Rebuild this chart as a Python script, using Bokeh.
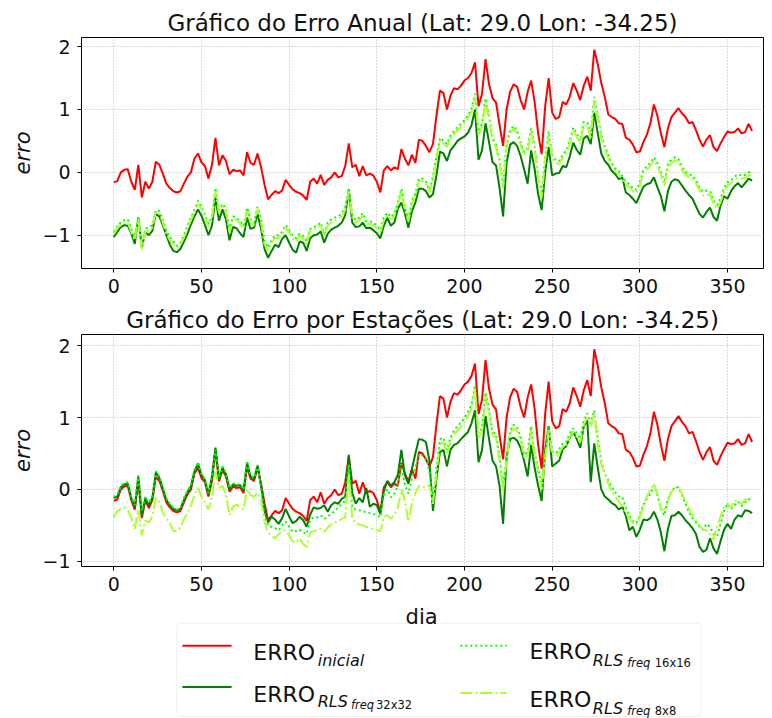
from bokeh.plotting import figure
from bokeh.layouts import column
from bokeh.models import Range1d, FixedTicker, BoxAnnotation
from bokeh.embed import file_html
from bokeh.resources import INLINE
from bokeh.core.properties import value

# ---------------- data ----------------
dia = list(range(0, 365, 2))

erro_inicial = [
    -0.16, -0.14, 0.00, 0.04, 0.05, -0.15, -0.28, 0.12, -0.40, -0.15,
    -0.26, -0.15, 0.17, 0.12, -0.02, -0.18, -0.25, -0.30, -0.32, -0.30,
    -0.18, -0.07, 0.00, 0.22, 0.30, 0.16, 0.10, -0.10, 0.12, 0.55,
    0.11, 0.27, 0.18, -0.03, 0.04, 0.02, 0.03, -0.05, 0.32, 0.15,
    0.12, 0.30, 0.08, -0.20, -0.43, -0.36, -0.30, -0.33, -0.29, -0.12,
    -0.20, -0.27, -0.31, -0.33, -0.37, -0.44, -0.15, -0.10, -0.18, -0.04,
    -0.20, -0.12, -0.08, 0.00, -0.08, -0.06, 0.10, 0.46, 0.08, 0.12,
    -0.06, 0.10, -0.05, -0.02, -0.05, -0.15, -0.32, 0.03, 0.10, 0.03,
    0.08, 0.05, 0.37, 0.22, 0.11, 0.28, 0.15, 0.52, 0.50, 0.42,
    0.32, 0.45, 0.90, 1.30, 1.26, 1.00, 1.22, 1.34, 1.32, 1.38,
    1.46, 1.50, 1.58, 1.75, 1.05, 1.25, 1.80, 1.40, 1.18, 1.11,
    0.75, 0.42, 1.00, 1.28, 1.40, 1.36, 1.15, 1.00, 1.28, 1.46,
    1.12, 0.62, 0.29, 1.05, 1.50, 0.95, 0.85, 0.88, 1.12, 1.08,
    1.20, 1.42, 1.30, 1.15, 1.38, 1.52, 1.30, 1.95, 1.72, 1.42,
    1.20, 0.92, 0.88, 0.85, 0.78, 0.77, 0.55, 0.52, 0.44, 0.32,
    0.33, 0.48, 0.60, 0.78, 1.08, 0.90, 0.62, 0.40, 0.70, 0.88,
    0.95, 1.02, 0.94, 0.88, 0.78, 0.80, 0.67, 0.52, 0.41, 0.52,
    0.59, 0.40, 0.34, 0.46, 0.56, 0.65, 0.63, 0.64, 0.70, 0.62,
    0.64, 0.77, 0.66,
]

# annual fit
anual_32 = [
    -1.03, -0.95, -0.87, -0.84, -0.85, -0.97, -1.14, -0.72, -1.20, -0.95,
    -1.00, -0.93, -0.66, -0.70, -0.84, -1.00, -1.15, -1.25, -1.27, -1.22,
    -1.10, -0.98, -0.83, -0.70, -0.59, -0.69, -0.84, -1.00, -0.85, -0.40,
    -0.77, -0.59, -0.75, -1.08, -0.87, -0.89, -0.97, -1.03, -0.72, -0.90,
    -0.88, -0.66, -0.90, -1.22, -1.36, -1.25, -1.15, -1.19, -1.06, -1.00,
    -1.12, -1.23, -1.28, -1.10, -1.12, -1.25, -1.05, -1.00, -0.99, -0.94,
    -1.12, -0.98, -0.91, -0.88, -0.85, -0.80, -0.68, -0.28, -0.80, -0.87,
    -0.86, -0.80, -0.89, -0.88, -0.92, -0.97, -1.05, -0.85, -0.72, -0.85,
    -0.80, -0.58, -0.48, -0.65, -0.88, -0.62, -0.48, -0.26, -0.26, -0.30,
    -0.40, -0.35, -0.05, 0.33, 0.30, 0.18, 0.35, 0.42, 0.50, 0.54,
    0.57, 0.63, 0.75, 1.00, 0.20, 0.35, 0.78, 0.48, 0.16, 0.11,
    -0.25, -0.70, 0.15, 0.44, 0.48, 0.42, 0.26, 0.05, -0.18, 0.35,
    0.05, -0.35, -0.60, 0.00, 0.40, -0.05, -0.02, -0.01, 0.10, 0.08,
    0.25, 0.47, 0.36, 0.28, 0.54, 0.58, 0.45, 0.95, 0.62, 0.30,
    0.18, 0.12, 0.02, -0.03, -0.11, -0.08, -0.32, -0.36, -0.42, -0.49,
    -0.36, -0.23, -0.19, -0.17, -0.08, -0.24, -0.38, -0.62, -0.30, -0.15,
    -0.11, -0.13, -0.21, -0.29, -0.36, -0.42, -0.54, -0.66, -0.72, -0.63,
    -0.56, -0.71, -0.77, -0.53, -0.38, -0.42, -0.30, -0.22, -0.17, -0.24,
    -0.17, -0.10, -0.13,
]

anual_16 = [
    -0.95, -0.85, -0.80, -0.76, -0.75, -0.90, -1.02, -0.72, -1.18, -0.90,
    -0.87, -0.84, -0.60, -0.62, -0.75, -0.94, -1.03, -1.10, -1.17, -1.12,
    -1.00, -0.86, -0.72, -0.60, -0.45, -0.55, -0.68, -0.82, -0.70, -0.25,
    -0.60, -0.50, -0.58, -0.92, -0.70, -0.72, -0.78, -0.85, -0.56, -0.75,
    -0.80, -0.55, -0.75, -1.10, -1.20, -1.08, -1.00, -1.00, -0.95, -0.84,
    -0.92, -1.00, -1.05, -0.98, -1.01, -1.10, -0.90, -0.87, -0.85, -0.80,
    -0.98, -0.80, -0.75, -0.72, -0.70, -0.65, -0.56, -0.26, -0.68, -0.76,
    -0.72, -0.65, -0.78, -0.78, -0.80, -0.85, -0.92, -0.72, -0.64, -0.71,
    -0.66, -0.48, -0.26, -0.55, -0.74, -0.45, -0.34, -0.10, -0.10, -0.15,
    -0.28, -0.08, 0.25, 0.55, 0.50, 0.45, 0.58, 0.66, 0.72, 0.77,
    0.83, 0.91, 1.01, 1.25, 0.65, 0.78, 1.18, 0.90, 0.55, 0.44,
    0.20, -0.20, 0.45, 0.67, 0.74, 0.66, 0.48, 0.32, 0.38, 0.70,
    0.40, -0.05, -0.35, 0.25, 0.65, 0.28, 0.20, 0.18, 0.28, 0.35,
    0.50, 0.71, 0.62, 0.50, 0.80, 0.80, 0.60, 1.20, 0.90, 0.60,
    0.42, 0.28, 0.14, 0.06, 0.02, -0.06, -0.14, -0.19, -0.25, -0.28,
    -0.16, 0.04, 0.09, 0.15, 0.24, 0.15, 0.02, -0.17, 0.13, 0.20,
    0.24, 0.21, 0.09, 0.01, -0.03, -0.05, -0.12, -0.24, -0.31, -0.29,
    -0.30, -0.44, -0.52, -0.42, -0.25, -0.16, -0.12, -0.07, -0.03, -0.05,
    -0.04, 0.00, 0.02,
]

anual_8 = [
    -0.98, -0.88, -0.84, -0.80, -0.80, -0.95, -1.08, -0.74, -1.22, -0.95,
    -0.92, -0.88, -0.63, -0.66, -0.80, -0.98, -1.08, -1.15, -1.20, -1.15,
    -1.04, -0.90, -0.76, -0.64, -0.50, -0.58, -0.72, -0.87, -0.74, -0.30,
    -0.65, -0.54, -0.62, -0.96, -0.74, -0.76, -0.82, -0.90, -0.60, -0.80,
    -0.84, -0.58, -0.80, -1.15, -1.25, -1.12, -1.04, -1.05, -0.99, -0.88,
    -0.96, -1.05, -1.10, -1.02, -1.05, -1.15, -0.94, -0.91, -0.89, -0.84,
    -1.02, -0.85, -0.80, -0.76, -0.74, -0.69, -0.60, -0.30, -0.72, -0.80,
    -0.76, -0.70, -0.82, -0.82, -0.84, -0.90, -0.97, -0.76, -0.68, -0.75,
    -0.70, -0.52, -0.30, -0.60, -0.78, -0.50, -0.38, -0.14, -0.14, -0.19,
    -0.32, -0.12, 0.20, 0.50, 0.46, 0.40, 0.53, 0.61, 0.67, 0.72,
    0.78, 0.86, 0.96, 1.20, 0.60, 0.73, 1.12, 0.85, 0.50, 0.39,
    0.15, -0.25, 0.40, 0.62, 0.69, 0.61, 0.43, 0.27, 0.33, 0.65,
    0.35, -0.10, -0.40, 0.20, 0.60, 0.23, 0.15, 0.13, 0.23, 0.30,
    0.45, 0.66, 0.57, 0.45, 0.75, 0.75, 0.55, 1.15, 0.85, 0.55,
    0.37, 0.23, 0.09, 0.01, -0.03, -0.11, -0.19, -0.24, -0.30, -0.33,
    -0.21, -0.01, 0.04, 0.10, 0.19, 0.10, -0.03, -0.22, 0.08, 0.15,
    0.19, 0.16, 0.04, -0.04, -0.08, -0.10, -0.17, -0.29, -0.37, -0.35,
    -0.36, -0.50, -0.58, -0.48, -0.31, -0.21, -0.17, -0.12, -0.08, -0.10,
    -0.09, -0.05, -0.03,
]

# seasonal fit
estacoes_32 = [
    -0.12, -0.10, 0.03, 0.07, 0.08, -0.12, -0.25, 0.18, -0.36, -0.12,
    -0.22, -0.12, 0.24, 0.16, 0.01, -0.15, -0.22, -0.27, -0.29, -0.27,
    -0.15, -0.04, 0.04, 0.25, 0.36, 0.20, 0.13, -0.07, 0.18, 0.58,
    0.14, 0.30, 0.21, 0.00, 0.07, 0.05, 0.06, -0.02, 0.37, 0.18,
    0.15, 0.33, 0.05, -0.30, -0.46, -0.38, -0.42, -0.48, -0.40, -0.27,
    -0.38, -0.47, -0.44, -0.38, -0.43, -0.52, -0.35, -0.25, -0.27, -0.26,
    -0.22, -0.31, -0.22, -0.18, -0.20, -0.13, -0.10, 0.48, -0.05, -0.20,
    -0.12, -0.18, 0.02, -0.24, -0.20, -0.22, -0.34, -0.02, 0.12, 0.05,
    0.10, 0.20, 0.55, 0.20, 0.08, 0.28, 0.50, 0.70, 0.69, 0.66,
    0.40, -0.30, 0.15, 0.52, 0.55, 0.32, 0.55, 0.62, 0.64, 0.70,
    0.75, 0.80, 0.92, 1.10, 0.38, 0.55, 1.02, 0.70, 0.40, 0.32,
    0.05, -0.48, 0.45, 0.70, 0.72, 0.68, 0.58, 0.40, 0.18, 0.62,
    0.30, 0.05, -0.16, 0.55, 0.88, 0.32, 0.36, 0.40, 0.56, 0.60,
    0.72, 0.80, 0.70, 0.58, 0.88, 0.96, 0.10, 0.64, 0.30, 0.00,
    -0.10, -0.14, -0.19, -0.22, -0.28, -0.24, -0.37, -0.57, -0.52, -0.66,
    -0.56, -0.42, -0.43, -0.40, -0.31, -0.42, -0.60, -0.86, -0.55, -0.37,
    -0.36, -0.31, -0.36, -0.43, -0.48, -0.54, -0.62, -0.80, -0.87, -0.84,
    -0.68, -0.82, -0.90, -0.72, -0.56, -0.48, -0.55, -0.42, -0.36, -0.38,
    -0.29, -0.30, -0.33,
]

estacoes_16 = [
    -0.10, -0.08, 0.05, 0.09, 0.10, -0.10, -0.22, 0.20, -0.30, -0.10,
    -0.18, -0.10, 0.25, 0.18, 0.03, -0.12, -0.20, -0.26, -0.28, -0.25,
    -0.12, -0.02, 0.06, 0.27, 0.38, 0.22, 0.14, -0.05, 0.20, 0.55,
    0.16, 0.32, 0.23, 0.02, 0.09, 0.06, 0.08, 0.00, 0.40, 0.20,
    0.16, 0.34, 0.02, -0.38, -0.50, -0.52, -0.54, -0.57, -0.50, -0.45,
    -0.52, -0.59, -0.58, -0.56, -0.60, -0.62, -0.42, -0.39, -0.39, -0.36,
    -0.41, -0.38, -0.34, -0.30, -0.25, -0.20, -0.16, 0.35, -0.25, -0.28,
    -0.29, -0.30, -0.32, -0.33, -0.34, -0.36, -0.39, -0.08, 0.00, -0.11,
    -0.06, 0.05, 0.35, 0.07, -0.06, 0.15, 0.30, 0.49, 0.47, 0.44,
    0.25, -0.15, 0.30, 0.70, 0.72, 0.55, 0.72, 0.82, 0.88, 0.93,
    1.00, 1.08, 1.18, 1.45, 0.78, 0.85, 1.35, 1.10, 0.80, 0.77,
    0.45, 0.03, 0.45, 0.82, 0.90, 0.86, 0.74, 0.48, 0.52, 0.88,
    0.50, 0.30, 0.05, 0.50, 0.88, 0.53, 0.50, 0.56, 0.64, 0.66,
    0.78, 0.85, 0.78, 0.70, 0.95, 1.06, 0.92, 1.10, 0.70, 0.40,
    0.22, 0.12, 0.03, -0.04, -0.10, -0.11, -0.25, -0.37, -0.44, -0.47,
    -0.36, -0.22, -0.13, -0.06, 0.05, -0.08, -0.28, -0.36, -0.13, -0.03,
    0.03, 0.03, -0.08, -0.20, -0.32, -0.40, -0.46, -0.52, -0.56, -0.48,
    -0.52, -0.62, -0.65, -0.48, -0.30, -0.20, -0.27, -0.22, -0.17, -0.23,
    -0.18, -0.14, -0.13,
]

estacoes_8 = [
    -0.39, -0.30, -0.27, -0.25, -0.28, -0.40, -0.55, -0.28, -0.64, -0.43,
    -0.46, -0.38, -0.12, -0.18, -0.32, -0.40, -0.47, -0.58, -0.58, -0.53,
    -0.42, -0.33, -0.22, -0.08, 0.02, -0.10, -0.18, -0.28, -0.10, 0.25,
    0.02, 0.05, -0.08, -0.36, -0.24, -0.21, -0.25, -0.28, 0.00, -0.08,
    -0.10, -0.05, -0.15, -0.45, -0.60, -0.64, -0.68, -0.62, -0.58, -0.57,
    -0.64, -0.72, -0.74, -0.68, -0.76, -0.80, -0.60, -0.58, -0.56, -0.55,
    -0.59, -0.53, -0.49, -0.46, -0.44, -0.41, -0.39, 0.20, -0.40, -0.47,
    -0.49, -0.50, -0.52, -0.54, -0.55, -0.57, -0.58, -0.38, -0.36, -0.41,
    -0.35, -0.25, 0.00, -0.15, -0.45, -0.20, -0.05, 0.05, 0.04, 0.03,
    0.06, -0.20, 0.22, 0.62, 0.66, 0.48, 0.66, 0.76, 0.82, 0.87,
    0.94, 1.02, 1.12, 1.40, 0.72, 0.80, 1.30, 1.05, 0.75, 0.72,
    0.40, -0.02, 0.40, 0.77, 0.85, 0.81, 0.69, 0.43, 0.47, 0.83,
    0.45, 0.25, 0.00, 0.45, 0.83, 0.48, 0.45, 0.51, 0.59, 0.61,
    0.73, 0.80, 0.73, 0.65, 0.90, 1.00, 0.87, 1.05, 0.62, 0.35,
    0.22, 0.08, -0.04, -0.10, -0.17, -0.24, -0.33, -0.41, -0.47, -0.49,
    -0.39, -0.22, -0.10, 0.00, 0.08, -0.06, -0.28, -0.28, -0.15, -0.04,
    0.03, 0.03, -0.06, -0.16, -0.26, -0.36, -0.44, -0.50, -0.55, -0.57,
    -0.62, -0.70, -0.52, -0.38, -0.24, -0.20, -0.25, -0.15, -0.18, -0.20,
    -0.14, -0.14, -0.12,
]

x_ticks = [0, 50, 100, 150, 200, 250, 300, 350]
y_ticks = [-1, 0, 1, 2]
y_tick_labels = {-1: "\u22121", 0: "0", 1: "1", 2: "2"}

# ---------------- styling ----------------
FONT = "DejaVu Sans"
W = 772
RED = "#ff0000"
DARK = "#008000"
LIME = "#00ff00"
YG = "#adff2f"
DOT = "2 3"
DASHDOT = "12 3 2 3"


def panel(title, height, top_border, bottom_border, y_lo, y_hi, s32, s16, s8):
    p = figure(width=W, height=height, output_backend="svg", toolbar_location=None,
               x_range=Range1d(-18.4, 370.5), y_range=Range1d(y_lo, y_hi),
               min_border_left=81, min_border_right=9,
               min_border_top=top_border, min_border_bottom=bottom_border,
               background_fill_color="white", border_fill_color="white")
    p.title.text = title
    p.title.align = "center"
    p.title.text_font = FONT
    p.title.text_font_size = "23px"
    p.title.text_font_style = "normal"
    p.title.text_color = "#111111"
    p.title.standoff = 4

    p.outline_line_color = "black"
    p.outline_line_width = 1
    p.outline_line_alpha = 1

    for ax in (p.xaxis, p.yaxis):
        ax.axis_line_color = None
        ax.major_tick_line_color = "black"
        ax.major_tick_out = 4
        ax.major_tick_in = 0
        ax.minor_tick_line_color = None
        ax.major_label_text_font = FONT
        ax.major_label_text_font_size = "19px"
        ax.major_label_text_color = "#111111"
        ax.major_label_standoff = 6
    p.yaxis.major_label_standoff = 7

    p.xaxis.ticker = FixedTicker(ticks=x_ticks)
    p.yaxis.ticker = FixedTicker(ticks=y_ticks)
    p.yaxis.major_label_overrides = y_tick_labels

    p.yaxis.axis_label = "erro"
    p.yaxis.axis_label_text_font = FONT
    p.yaxis.axis_label_text_font_style = "italic"
    p.yaxis.axis_label_text_font_size = "21px"
    p.yaxis.axis_label_text_color = "#111111"
    p.yaxis.axis_label_standoff = 4

    p.grid.grid_line_color = "#b8b8b8"
    p.grid.grid_line_dash = "1 2"
    p.grid.grid_line_width = 1

    p.line(dia, erro_inicial, line_color=RED, line_width=2)
    p.line(dia, s32, line_color=DARK, line_width=2)
    p.line(dia, s16, line_color=LIME, line_width=2, line_dash=DOT)
    p.line(dia, s8, line_color=YG, line_width=2, line_dash=DASHDOT)
    return p


top = panel("Gráfico do Erro Anual (Lat: 29.0 Lon: -34.25)", 302, 37, 34,
            -1.53, 2.145, anual_32, anual_16, anual_8)
bottom = panel("Gráfico do Erro por Estações (Lat: 29.0 Lon: -34.25)", 298, 30, 34,
               -1.073, 2.156, estacoes_32, estacoes_16, estacoes_8)

# ---------------- x label + legend ----------------
# the column aligns this frame with the panels above, so the x range is set to
# the page pixel span of that frame and positions below are page pixels
leg = figure(width=W, height=118, output_backend="svg", toolbar_location=None,
             x_range=Range1d(81.6, 764.2), y_range=Range1d(118, 0),
             min_border_left=81, min_border_right=9, min_border_top=0, min_border_bottom=0,
             x_axis_location=None, y_axis_location=None,
             background_fill_color="white", border_fill_color="white")
leg.outline_line_color = None
leg.grid.visible = False

leg.add_layout(BoxAnnotation(left=177, right=702, top=22.7, bottom=116,
                             fill_color="white", fill_alpha=1,
                             line_color="#cccccc", line_width=1, border_radius=4,
                             level="underlay"))

leg.text(x=[422], y=[16], text=["dia"], text_font=value(FONT), text_font_size=value("21px"),
         text_align="center", text_baseline="alphabetic", text_color="#111111")

# handles
leg.line([182.6, 231.8], [45.3, 45.3], line_color=RED, line_width=2)
leg.line([182.6, 231.8], [86.6, 86.6], line_color=DARK, line_width=2)
leg.line([460.8, 507.3], [45.3, 45.3], line_color=LIME, line_width=2, line_dash=DOT)
leg.line([460.8, 507.3], [92.5, 92.5], line_color=YG, line_width=2, line_dash=DASHDOT)


def label(x, y, txt, size, style="normal"):
    leg.text(x=[x], y=[y], text=[txt], text_font=value(FONT), text_font_size=value(size),
             text_font_style=style, text_align="left", text_baseline="alphabetic",
             text_color="#111111")


# ERRO_inicial
label(253.5, 52.2, "ERRO", "22px")
label(318, 59.8, "inicial", "16px", "italic")
# ERRO_RLS_freq 32x32
label(253.5, 93.5, "ERRO", "22px")
label(318, 100.5, "RLS", "16px", "italic")
label(351.3, 104.5, "freq", "11.5px", "italic")
label(376.4, 104.5, "32x32", "11.5px")
# ERRO_RLS_freq 16x16
label(530, 51.2, "ERRO", "22px")
label(593.4, 60, "RLS", "16px", "italic")
label(627.8, 62.5, "freq", "11.5px", "italic")
label(655.4, 62.5, "16x16", "11.5px")
# ERRO_RLS_freq 8x8
label(530, 99.4, "ERRO", "22px")
label(593.4, 108.2, "RLS", "16px", "italic")
label(627.8, 110.7, "freq", "11.5px", "italic")
label(655.4, 110.7, "8x8", "11.5px")

layout = column(top, bottom, leg, spacing=0)
open("out.html", "w").write(file_html(layout, INLINE))
